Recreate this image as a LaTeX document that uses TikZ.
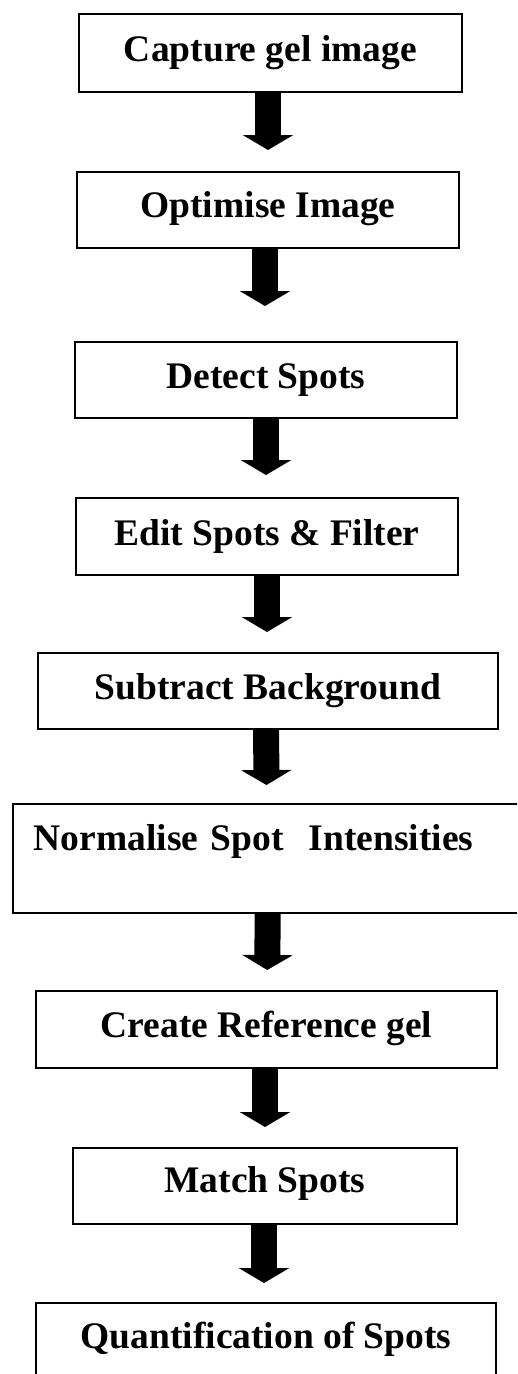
\documentclass[tikz,border=0pt]{standalone}
\usepackage{fontspec}
\setmainfont{Liberation Serif}
\usetikzlibrary{arrows.meta}
\tikzset{
  stepbox/.style={draw=black, line width=1.5pt, inner sep=0pt, text height=47pt, text depth=30pt,
    font=\bfseries\fontsize{37.5}{40}\selectfont, anchor=north},
  fatarrow/.style={line width=26pt, -{Triangle[width=50pt,length=15pt]}}
}
\begin{document}
\begin{tikzpicture}[x=1pt,y=-1pt]
\useasboundingbox (0,0) rectangle (517,1374);
\clip (0,0) rectangle (517,1374);
\node[stepbox, minimum width=383pt, text height=48pt] (b1) at (270.5,13) {Capture gel image};
\node[stepbox, minimum width=382pt, text height=46pt] (b2) at (268,171) {Optimise Image};
\node[stepbox, minimum width=382pt, text depth=29pt] (b3) at (266,341) {Detect Spots};
\node[stepbox, minimum width=382pt, text height=48pt, text depth=29pt] (b4) at (267,497) {Edit Spots \& Filter};
\node[stepbox, minimum width=460pt, text depth=29pt] (b5) at (268,652) {Subtract Background};
\node[stepbox, anchor=north west, text width=468pt, inner xsep=21pt, align=left, text depth=62pt] (b6) at (12,803) {Normalise Spot\ \ Intensities};
\node[stepbox, minimum width=461pt] (b7) at (266.5,990) {Create Reference gel};
\node[stepbox, minimum width=384pt, text height=45pt, text depth=31pt] (b8) at (265,1147) {Match Spots};
\node[stepbox, minimum width=460pt, text height=46pt, text depth=60pt] (b9) at (266,1302) {Quantification of Spots};
\draw[fatarrow, shorten >=21pt] ([xshift=-2.5pt]b1.south) -- (b2.north);
\draw[fatarrow, shorten >=35pt] ([xshift=-3pt]b2.south) -- ([xshift=-1pt]b3.north);
\draw[fatarrow, shorten >=22pt] (b3.south) -- ([xshift=-1pt]b4.north);
\draw[fatarrow, shorten >=20pt] (b4.south) -- ([xshift=-1pt]b5.north);
\draw[fatarrow, shorten >=18pt] ([xshift=-2pt]b5.south) -- ([xshift=-1pt]b6.north);
\draw[fatarrow, shorten >=20pt] (b6.south) -- ([xshift=0.5pt]b7.north);
\draw[fatarrow, shorten >=20pt] ([xshift=-1.5pt]b7.south) -- (b8.north);
\draw[fatarrow, shorten >=19pt] ([xshift=-1pt]b8.south) -- ([xshift=-2pt]b9.north);
\end{tikzpicture}
\end{document}
